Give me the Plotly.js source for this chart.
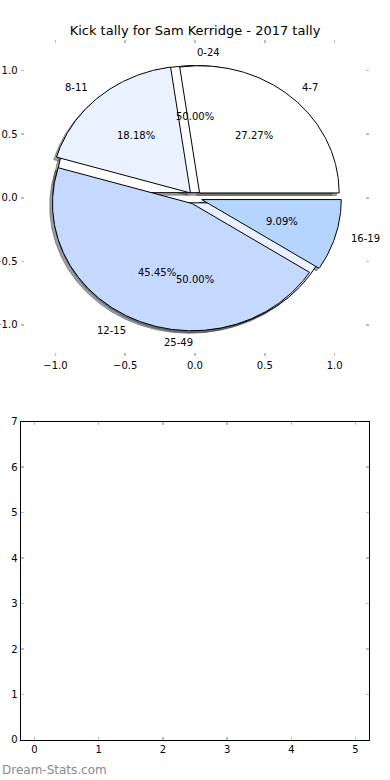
<!DOCTYPE html>
<html><head><meta charset="utf-8">
<script src="https://cdn.plot.ly/plotly-3.0.1.min.js"></script>
<style>html,body{margin:0;padding:0;background:#fff;} #chart{width:390px;height:780px;}</style>
</head><body><div id="chart"></div>
<script>
// ---- data ----
const titleText = "Kick tally for Sam Kerridge - 2017 tally";
const innerLabels = ["4-7", "8-11", "12-15", "16-19"];
const innerValues = [3, 2, 5, 1];
const innerColors = ["#ffffff", "#eaf2ff", "#c5d9ff", "#b5d5ff"];
const outerLabels = ["0-24", "25-49"];
const outerValues = [1, 1];
const outerColors = ["#ffffff", "#eaf2ff"];
const pieTicks = [-1, -0.5, 0, 0.5, 1];
const emptyXTicks = [0, 1, 2, 3, 4, 5];
const emptyYTicks = [0, 1, 2, 3, 4, 5, 6, 7];
const watermark = "Dream-Stats.com";

// ---- style ----
const FONT = "DejaVu Sans, Liberation Sans, sans-serif";
const innerExplode = 0.05;
const outerExplode = 0.04;

function buildPie(values, labels, colors, explode) {
  const total = values.reduce((a, b) => a + b, 0);
  let acc = 0;
  const out = [];
  values.forEach((v, i) => {
    const frac = v / total;
    const t1 = acc * 2 * Math.PI;
    const t2 = (acc + frac) * 2 * Math.PI;
    acc += frac;
    const tm = (t1 + t2) / 2;
    const cx = explode * Math.cos(tm);
    const cy = explode * Math.sin(tm);
    const xs = [cx], ys = [cy];
    const n = Math.max(8, Math.ceil((t2 - t1) / (Math.PI / 360)));
    for (let k = 0; k <= n; k++) {
      const a = t1 + (t2 - t1) * k / n;
      xs.push(cx + Math.cos(a));
      ys.push(cy + Math.sin(a));
    }
    xs.push(cx); ys.push(cy);
    const lx = cx + 1.1 * Math.cos(tm);
    const ly = cy + 1.1 * Math.sin(tm);
    const px = cx + 0.6 * Math.cos(tm);
    const py = cy + 0.6 * Math.sin(tm);
    out.push({xs, ys, color: colors[i], label: labels[i],
      lx, ly, anchor: lx > 0 ? "left" : "right",
      pct: (frac * 100).toFixed(2) + "%", px, py});
  });
  return out;
}

function shadowColor(hex) {
  const r = parseInt(hex.slice(1, 3), 16), g = parseInt(hex.slice(3, 5), 16), b = parseInt(hex.slice(5, 7), 16);
  return `rgba(${Math.round(r * 0.3)},${Math.round(g * 0.3)},${Math.round(b * 0.3)},0.5)`;
}

const outer = buildPie(outerValues, outerLabels, outerColors, outerExplode);
const inner = buildPie(innerValues, innerLabels, innerColors, innerExplode);

const traces = [];
// shadows first
[...outer, ...inner].forEach(w => {
  traces.push({
    type: "scatter", mode: "lines", xaxis: "x", yaxis: "y",
    x: w.xs.map(v => v - 0.02), y: w.ys.map(v => v - 0.02),
    fill: "toself", fillcolor: shadowColor(w.color),
    line: {color: shadowColor(w.color), width: 1},
    hoverinfo: "skip", showlegend: false
  });
});
[...outer, ...inner].forEach(w => {
  traces.push({
    type: "scatter", mode: "lines", xaxis: "x", yaxis: "y",
    x: w.xs, y: w.ys, fill: "toself", fillcolor: w.color,
    line: {color: "#000000", width: 1},
    hoverinfo: "skip", showlegend: false
  });
});
// empty lower axes placeholder
traces.push({type: "scatter", mode: "markers", x: [], y: [], xaxis: "x2", yaxis: "y2",
  hoverinfo: "skip", showlegend: false});

const annotations = [];
[...outer, ...inner].forEach(w => {
  annotations.push({xref: "x", yref: "y", x: w.lx, y: w.ly, text: w.label,
    showarrow: false, xanchor: w.anchor, yanchor: "middle",
    font: {family: FONT, size: 10, color: "#000"}});
  annotations.push({xref: "x", yref: "y", x: w.px, y: w.py, text: w.pct,
    showarrow: false, xanchor: "center", yanchor: "middle",
    font: {family: FONT, size: 10, color: "#000"}});
});
annotations.push({xref: "paper", yref: "paper", x: 0, y: 0.0128, text: watermark,
  showarrow: false, xanchor: "left", yanchor: "middle",
  font: {family: FONT, size: 12, color: "#8a8a8a"}});

const tickCommon = {
  ticks: "inside", ticklen: 3, tickwidth: 1.5, tickcolor: "#bdbdbd",
  showgrid: false, zeroline: false, mirror: "ticks",
  tickfont: {family: FONT, size: 10, color: "#000"}, fixedrange: true
};

const layout = {
  width: 390, height: 780,
  margin: {l: 0, r: 0, t: 0, b: 0},
  paper_bgcolor: "#ffffff", plot_bgcolor: "#ffffff",
  showlegend: false,
  title: {text: titleText, x: 0.5, xanchor: "center", y: 0.9615, yanchor: "middle",
    font: {family: FONT, size: 13, color: "#000"}},
  xaxis: Object.assign({}, tickCommon, {domain: [0.0526, 0.9474], anchor: "y",
    range: [-1.25, 1.25], tickvals: pieTicks, tickformat: ".1f",
    showline: true, linecolor: "rgba(0,0,0,0)"}),
  yaxis: Object.assign({}, tickCommon, {domain: [0.5442, 0.9487], anchor: "x",
    range: [-1.24, 1.24], tickvals: pieTicks, tickformat: ".1f",
    showline: true, linecolor: "rgba(0,0,0,0)"}),
  xaxis2: Object.assign({}, tickCommon, {domain: [0.0526, 0.9474], anchor: "y2",
    range: [-0.217, 5.217], tickvals: emptyXTicks,
    showline: true, linecolor: "#000", linewidth: 1}),
  yaxis2: Object.assign({}, tickCommon, {domain: [0.0513, 0.4594], anchor: "x2",
    range: [0, 7], tickvals: emptyYTicks,
    showline: true, linecolor: "#000", linewidth: 1}),
  annotations: annotations
};

Plotly.newPlot("chart", traces, layout, {staticPlot: true, displayModeBar: false});
</script>
</body></html>
